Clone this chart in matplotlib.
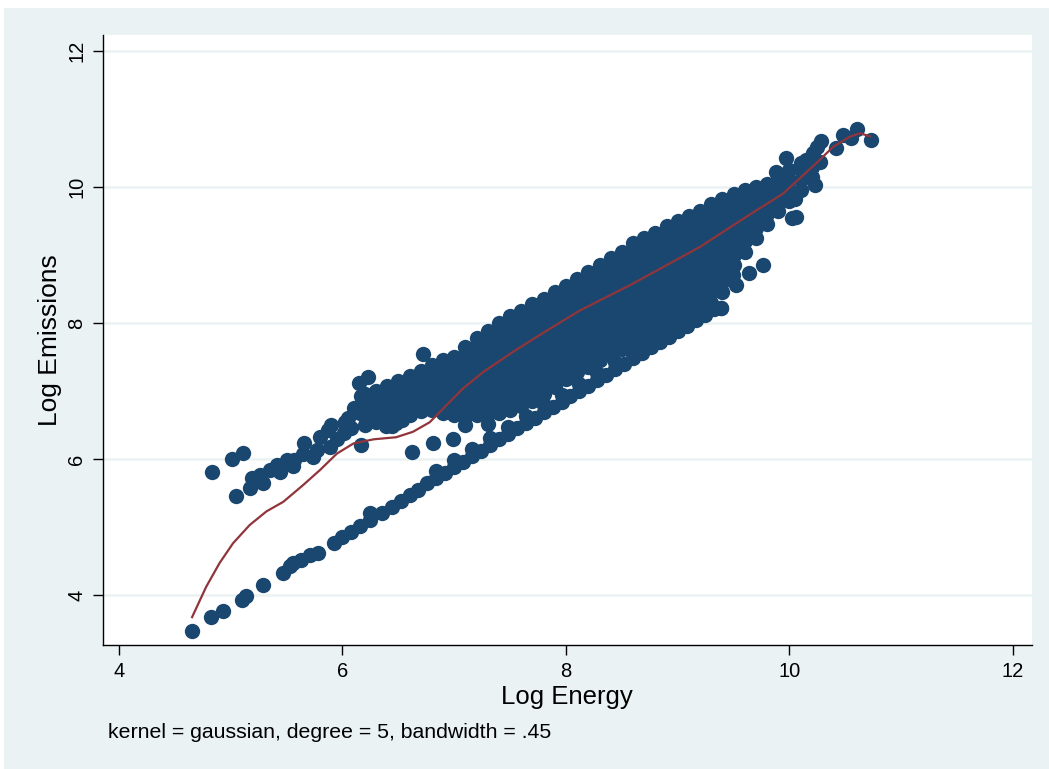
import matplotlib
matplotlib.use("Agg")
import matplotlib.pyplot as plt
from matplotlib.patches import Rectangle

plt.rcParams['font.family'] = ['Liberation Sans', 'DejaVu Sans']

# ---------------- data ----------------
# sparse lower "line" of observations (left part)
low_sparse_x = [4.65, 4.82, 4.93, 5.10, 5.14, 5.29, 5.47, 5.53, 5.56, 5.63, 5.71, 5.78]
low_sparse_y = [3.47, 3.67, 3.77, 3.93, 3.98, 4.14, 4.32, 4.42, 4.47, 4.51, 4.59, 4.62]

# dense lower line of observations
low_x = [5.92, 6.00, 6.08, 6.16, 6.25, 6.25, 6.35, 6.44, 6.52, 6.60, 6.68, 6.76, 6.84, 6.92,
         7.00, 7.08, 7.16, 7.24, 7.32, 7.40, 7.48, 7.56, 7.64, 7.72, 7.80, 7.88, 7.96, 8.04,
         8.12, 8.20, 8.28, 8.36, 8.44, 8.52, 8.60, 8.68, 8.76, 8.84, 8.92, 9.00, 9.08, 9.16,
         9.24, 9.32, 9.39]
low_y = [4.76, 4.85, 4.93, 5.01, 5.10, 5.20, 5.20, 5.30, 5.38, 5.47, 5.55, 5.64, 5.72, 5.80,
         5.88, 5.96, 6.04, 6.12, 6.21, 6.29, 6.37, 6.45, 6.53, 6.61, 6.69, 6.76, 6.84, 6.92,
         7.00, 7.08, 7.16, 7.24, 7.32, 7.40, 7.48, 7.56, 7.64, 7.72, 7.80, 7.88, 7.96, 8.04,
         8.12, 8.20, 8.22]
low2_x = [6.84, 7.00, 7.16, 7.32, 7.48, 7.64, 7.80, 7.96, 8.12, 8.28, 8.44, 8.60, 8.76]
low2_y = [5.82, 5.98, 6.14, 6.31, 6.47, 6.63, 6.79, 6.94, 7.10, 7.26, 7.42, 7.58, 7.73]

# upper-left arm and scattered observations
arm_x = [4.83, 5.01, 5.11, 5.05, 5.17, 5.19, 5.26, 5.29, 5.35, 5.41, 5.44, 5.50, 5.56, 5.57,
         5.66, 5.65, 5.74, 5.77, 5.80, 5.87, 5.89, 5.95, 6.02, 6.01, 6.16, 6.17, 6.26, 6.39,
         6.48, 6.62, 6.15, 6.23, 6.72, 6.81, 6.99, 6.17, 6.16, 5.90, 6.02, 6.44, 6.53, 6.35,
         6.05, 6.10, 6.22, 6.28, 6.08, 7.10, 7.30]
arm_y = [5.81, 6.00, 6.09, 5.46, 5.57, 5.72, 5.76, 5.64, 5.84, 5.91, 5.81, 5.99, 5.89, 5.99,
         6.23, 6.08, 6.03, 6.13, 6.33, 6.43, 6.18, 6.30, 6.53, 6.38, 6.67, 6.21, 6.77, 6.48,
         6.53, 6.11, 7.12, 7.20, 7.55, 6.23, 6.30, 6.92, 6.77, 6.50, 6.55, 6.48, 6.57, 6.97,
         6.60, 6.75, 6.62, 6.88, 6.45, 6.50, 6.52]

# main cloud: log energy columns and the log emissions observed in each
cloud_cols = [6.2, 6.3, 6.4, 6.5, 6.6, 6.7, 6.8, 6.9, 7.0, 7.1, 7.2, 7.3, 7.4, 7.5, 7.6, 7.7,
              7.8, 7.9, 8.0, 8.1, 8.2, 8.3, 8.4, 8.5, 8.6, 8.7, 8.8, 8.9, 9.0, 9.1, 9.2, 9.3,
              9.4, 9.5, 9.6, 9.7, 9.8, 9.9, 10.0, 10.1, 10.2]
cloud_vals = [
    [6.50, 6.64, 6.79, 6.95],
    [6.55, 6.70, 6.85, 7.00],
    [6.56, 6.71, 6.86, 7.00, 7.08],
    [6.60, 6.75, 6.90, 7.04, 7.15],
    [6.65, 6.80, 6.95, 7.09, 7.22],
    [6.70, 6.85, 7.00, 7.15, 7.30],
    [6.72, 6.87, 7.02, 7.17, 7.30, 7.38],
    [6.68, 6.83, 6.98, 7.13, 7.28, 7.45],
    [6.65, 6.80, 6.95, 7.10, 7.24, 7.38, 7.50],
    [6.62, 6.77, 6.92, 7.07, 7.22, 7.37, 7.52, 7.65],
    [6.64, 6.79, 6.94, 7.09, 7.24, 7.39, 7.54, 7.68, 7.78],
    [6.66, 6.81, 6.96, 7.11, 7.26, 7.41, 7.56, 7.71, 7.88],
    [6.68, 6.83, 6.98, 7.13, 7.28, 7.43, 7.58, 7.73, 7.87, 8.00],
    [6.72, 6.87, 7.02, 7.17, 7.32, 7.47, 7.62, 7.77, 7.92, 8.05, 8.10],
    [6.78, 6.93, 7.08, 7.23, 7.38, 7.53, 7.68, 7.83, 7.98, 8.10, 8.18],
    [6.86, 7.03, 7.18, 7.33, 7.48, 7.63, 7.78, 7.93, 8.08, 8.20, 8.28],
    [6.96, 7.13, 7.28, 7.43, 7.58, 7.73, 7.88, 8.03, 8.18, 8.35],
    [7.06, 7.23, 7.38, 7.53, 7.68, 7.83, 7.98, 8.13, 8.28, 8.45],
    [7.18, 7.35, 7.50, 7.65, 7.80, 7.95, 8.10, 8.25, 8.40, 8.55],
    [7.28, 7.45, 7.60, 7.75, 7.90, 8.05, 8.20, 8.35, 8.50, 8.65],
    [7.36, 7.53, 7.68, 7.83, 7.98, 8.13, 8.28, 8.43, 8.58, 8.75],
    [7.46, 7.63, 7.78, 7.93, 8.08, 8.23, 8.38, 8.53, 8.68, 8.85],
    [7.54, 7.71, 7.86, 8.01, 8.16, 8.31, 8.46, 8.61, 8.76, 8.95],
    [7.62, 7.79, 7.94, 8.09, 8.24, 8.39, 8.54, 8.69, 8.84, 8.98, 9.05],
    [7.68, 7.85, 8.00, 8.15, 8.30, 8.45, 8.60, 8.75, 8.90, 9.05, 9.17],
    [7.72, 7.87, 8.02, 8.17, 8.32, 8.47, 8.62, 8.77, 8.92, 9.07, 9.25],
    [7.80, 7.95, 8.10, 8.25, 8.40, 8.55, 8.70, 8.85, 9.00, 9.15, 9.32],
    [7.90, 8.05, 8.20, 8.35, 8.50, 8.65, 8.80, 8.95, 9.10, 9.25, 9.42],
    [8.00, 8.15, 8.30, 8.45, 8.60, 8.75, 8.90, 9.05, 9.20, 9.35, 9.50],
    [8.10, 8.25, 8.40, 8.55, 8.70, 8.85, 9.00, 9.15, 9.30, 9.45, 9.58],
    [8.20, 8.35, 8.50, 8.65, 8.80, 8.95, 9.10, 9.25, 9.40, 9.55, 9.65],
    [8.30, 8.45, 8.60, 8.75, 8.90, 9.05, 9.20, 9.35, 9.50, 9.65, 9.75],
    [8.45, 8.60, 8.75, 8.90, 9.05, 9.20, 9.35, 9.50, 9.65, 9.83],
    [8.85, 9.00, 9.15, 9.30, 9.45, 9.60, 9.75, 9.90],
    [9.05, 9.20, 9.35, 9.50, 9.65, 9.80, 9.95],
    [9.25, 9.40, 9.55, 9.70, 9.85, 10.00],
    [9.45, 9.60, 9.75, 9.90, 10.05],
    [9.65, 9.80, 9.95, 10.10],
    [9.80, 9.95, 10.10, 10.25],
    [9.95, 10.10, 10.25, 10.35],
    [10.15, 10.30, 10.45],
]

# outlying observations on the right
right_x = [9.39, 9.49, 9.52, 9.64, 9.76, 10.02, 10.06, 10.05, 10.23, 9.88, 9.97, 10.15, 10.27,
           10.21, 10.25, 10.28, 10.42, 10.48, 10.55, 10.60, 10.73]
right_y = [8.22, 8.71, 8.56, 8.73, 8.85, 9.54, 9.56, 9.83, 10.03, 10.22, 10.42, 10.40, 10.37,
           10.50, 10.59, 10.67, 10.57, 10.76, 10.72, 10.86, 10.69]

# local polynomial smooth (kernel = gaussian, degree = 5, bandwidth = .45)
smooth_x = [4.65, 4.78, 4.90, 5.02, 5.17, 5.32, 5.47, 5.65, 5.80, 5.95, 6.10, 6.28, 6.48, 6.63,
            6.78, 6.93, 7.08, 7.26, 7.53, 7.82, 8.12, 8.60, 9.20, 9.64, 9.94, 10.24, 10.39,
            10.54, 10.63, 10.73]
smooth_y = [3.66, 4.12, 4.47, 4.76, 5.03, 5.23, 5.37, 5.62, 5.84, 6.08, 6.23, 6.29, 6.32, 6.40,
            6.54, 6.79, 7.04, 7.28, 7.58, 7.88, 8.18, 8.58, 9.12, 9.59, 9.90, 10.35, 10.59,
            10.74, 10.79, 10.74]

x_ticks = [4, 6, 8, 10, 12]
y_ticks = [4, 6, 8, 10, 12]

# ---------------- figure ----------------
W, H = 1049, 769
fig = plt.figure(figsize=(W / 100, H / 100), dpi=100, facecolor='white')
fig.patches.append(Rectangle((4 / W, 0), 1 - 4 / W, 1 - 8 / H, transform=fig.transFigure,
                             facecolor='#EAF2F3', edgecolor='none', zorder=-10))

ax = fig.add_axes([103 / W, 1 - 645 / H, (1032 - 103) / W, (645 - 35) / H])
ax.set_facecolor('white')

navy = '#1A476F'
ms = 122
cx, cy = [], []
for xc, ys in zip(cloud_cols, cloud_vals):
    for yv in ys:
        cx.append(xc)
        cy.append(yv)

for xs, ys in [(low_sparse_x, low_sparse_y), (low_x, low_y), (low2_x, low2_y),
               (arm_x, arm_y), (cx, cy), (right_x, right_y)]:
    ax.scatter(xs, ys, s=ms, color=navy, linewidths=0, zorder=3)

ax.plot(smooth_x, smooth_y, color='#90353B', lw=1.6, zorder=4, solid_capstyle='butt')

ax.set_xlim(3.857, 12.17)
ax.set_ylim(3.265, 12.235)
ax.set_xticks(x_ticks)
ax.set_yticks(y_ticks)
ax.set_xticklabels([str(t) for t in x_ticks])
ax.set_yticklabels([str(t) for t in y_ticks], rotation=90, va='center')

for s in ['top', 'right']:
    ax.spines[s].set_visible(False)
for s in ['left', 'bottom']:
    ax.spines[s].set_color('#000000')
    ax.spines[s].set_linewidth(1.0)

ax.tick_params(axis='both', direction='out', length=7, width=1.0, colors='black',
               labelsize=14.5, pad=5)
ax.grid(axis='y', color='#EAF2F3', lw=1.8, zorder=0)
ax.set_axisbelow(True)

# axis titles at the reference positions
fig.text(567 / W, 1 - 697 / H, 'Log Energy', fontsize=18.5, ha='center', va='center')
fig.text(50 / W, 1 - 340 / H, 'Log Emissions', fontsize=19, ha='center', va='center',
         rotation=90)

fig.text(108 / W, 1 - 732 / H, 'kernel = gaussian, degree = 5, bandwidth = .45',
         fontsize=15.3, ha='left', va='center')

fig.savefig('out.png', dpi=100, facecolor=fig.get_facecolor())
